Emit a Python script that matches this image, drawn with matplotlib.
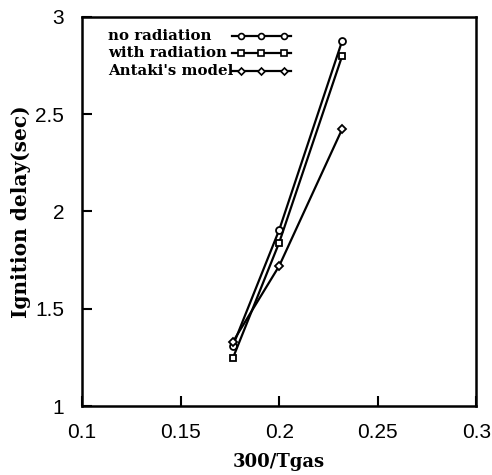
import matplotlib
matplotlib.use("Agg")
import matplotlib.pyplot as plt

x = [0.1765, 0.2, 0.232]
no_rad = [1.31, 1.905, 2.877]
with_rad = [1.247, 1.84, 2.80]
antaki = [1.33, 1.72, 2.424]

labels = ["no radiation", "with radiation", "Antaki's model"]
markers = ["o", "s", "D"]
msizes = [5, 4.5, 4.2]
xticks = [0.1, 0.15, 0.2, 0.25, 0.3]
xtick_labels = ["0.1", "0.15", "0.2", "0.25", "0.3"]
yticks = [1, 1.5, 2, 2.5, 3]
ytick_labels = ["1", "1.5", "2", "2.5", "3"]

fig = plt.figure(figsize=(4.92, 4.75), dpi=100)
ax = fig.add_axes([0.167, 0.145, 0.801, 0.82])

common = dict(color="black", lw=1.6, mfc="white", mec="black", mew=1.3)
for ys, m, ms, lab in zip([no_rad, with_rad, antaki], markers, msizes, labels):
    ax.plot(x, ys, marker=m, ms=ms, label=lab, **common)

ax.set_xlim(0.1, 0.3)
ax.set_ylim(1, 3)
ax.set_xticks(xticks)
ax.set_xticklabels(xtick_labels)
ax.set_yticks(yticks)
ax.set_yticklabels(ytick_labels)
ax.tick_params(direction="in", length=7, width=1.5, labelsize=15, pad=12,
               top=False, right=False)
ax.tick_params(axis="y", pad=13)
for lab in ax.get_xticklabels() + ax.get_yticklabels():
    lab.set_family("Liberation Sans")
for s in ax.spines.values():
    s.set_linewidth(1.8)

ax.set_xlabel("300/Tgas", fontsize=13, fontweight="bold", family="DejaVu Serif", labelpad=8)
ax.set_ylabel("Ignition delay(sec)", fontsize=14.5, fontweight="bold", family="DejaVu Serif", labelpad=3)

# legend drawn manually: text left-aligned, sample line to the right
row_y = [0.951, 0.907, 0.861]
for lab, m, ms, yy in zip(labels, markers, msizes, row_y):
    ax.text(0.066, yy, lab, transform=ax.transAxes, ha="left", va="center",
            fontsize=10.8, fontweight="bold", family="DejaVu Serif")
    ax.plot([0.381, 0.53], [yy, yy], transform=ax.transAxes, color="black", lw=1.6)
    ax.plot([0.403, 0.455, 0.513], [yy, yy, yy], transform=ax.transAxes, ls="none",
            marker=m, ms=ms * 0.85, mfc="white", mec="black", mew=1.2)

fig.savefig("out.png", dpi=100)
